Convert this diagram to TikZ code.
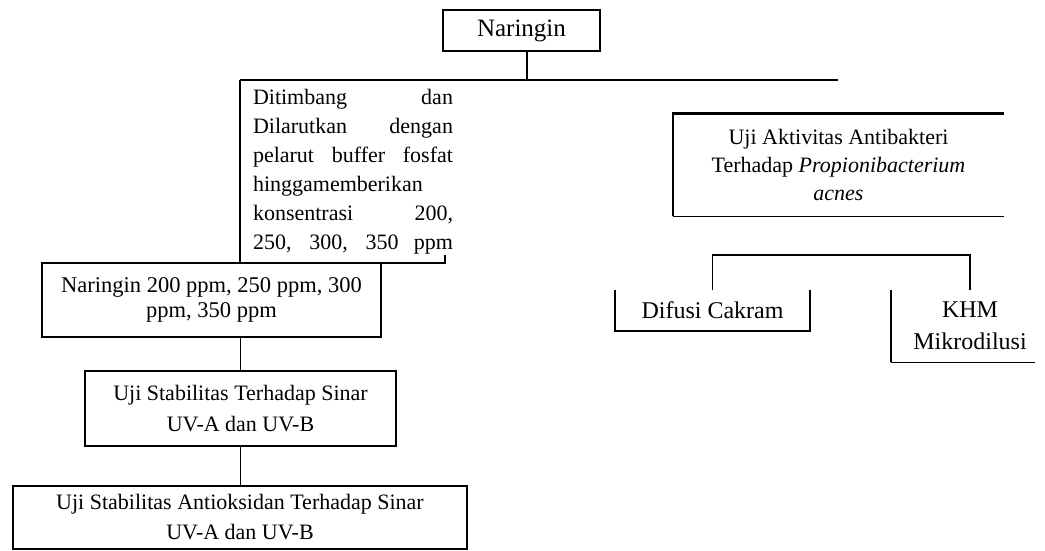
\documentclass[tikz,border=0pt]{standalone}
\usepackage{fontspec}
\setmainfont{Liberation Serif}
\tikzset{
  lbl/.style={font=\fontsize{22}{28}\selectfont, align=center, inner sep=0pt},
  frame/.style={draw=black, line width=1.8pt},
  conn/.style={draw=black, line width=1.8pt},
  heavy/.style={draw=black, line width=2.6pt},
  thin/.style={draw=black, line width=0.8pt},
}
\newcommand{\jl}[1]{\makebox[200pt][s]{#1}}
\begin{document}
\begin{tikzpicture}[x=1pt,y=-1pt]
\useasboundingbox (0,0) rectangle (1045,551);
% top
\node[frame, lbl, minimum width=157pt, minimum height=41pt, font=\fontsize{25}{28}\selectfont] (top) at (521.5,30.5) {Naringin};
\coordinate (j1) at (527,80);
\coordinate (jL) at (240,80);
\coordinate (jR) at (838,80);
\draw[conn] (top.south -| j1) -- (j1);
\draw[conn] (jL) -- (jR);
% middle text block
\node[lbl, align=left, font=\fontsize{22}{29}\selectfont] (mid) at (353,172)
  {\jl{Ditimbang dan}\\ \jl{Dilarutkan dengan}\\ \jl{pelarut buffer fosfat}\\ \jl{hinggamemberikan}\\ \jl{konsentrasi 200,}\\ \jl{250, 300, 350 ppm}};
\coordinate (mbl) at (240,263);
\coordinate (mbr) at (445,263);
\draw[conn] (jL) -- (mbl) -- (mbr) -- ++(0,-8);
% left column
\node[frame, lbl, minimum width=339pt, minimum height=74pt, font=\fontsize{22.5}{25}\selectfont] (b4) at (211.5,300)
  {Naringin 200 ppm, 250 ppm, 300\\ ppm, 350 ppm};
\node[frame, lbl, minimum width=311pt, minimum height=75pt, font=\fontsize{22}{31}\selectfont] (b5) at (240.5,408.5)
  {Uji Stabilitas Terhadap Sinar\\ UV-A dan UV-B};
\node[frame, lbl, minimum width=454pt, minimum height=63pt, font=\fontsize{22}{30}\selectfont] (b6) at (240,517.5)
  {Uji Stabilitas Antioksidan Terhadap Sinar\\ UV-A dan UV-B};
\draw[conn] (b4.south -| b5.north) -- (b5.north);
\draw[conn] (b5.south) -- (b5.south |- b6.north);
% right side
\node[lbl, minimum width=331pt, minimum height=102pt] (rb) at (838.5,165)
  {Uji Aktivitas Antibakteri\\ Terhadap \textit{Propionibacterium}\\ \textit{acnes}};
\draw[heavy] (rb.south west) -- (rb.north west) -- (rb.north east);
\draw[thin] (rb.south west) -- (rb.south east);
\node[lbl, minimum width=195pt, minimum height=41pt, font=\fontsize{24}{28}\selectfont] (dif) at (712.5,310.5) {Difusi Cakram};
\draw[frame] (dif.north west) -- (dif.south west) -- (dif.south east) -- (dif.north east);
\node[lbl, minimum width=158pt, minimum height=72pt, font=\fontsize{24}{32}\selectfont] (khm) at (970,326) {KHM\\ Mikrodilusi};
\draw[frame] (khm.north west) -- (khm.south west);
\draw[thin] (khm.south west) -- ++(144,0);
\coordinate (j2) at (838,255);
\draw[conn] (dif.north) -- (dif.north |- j2) -- (khm.north |- j2) -- (khm.north);
\end{tikzpicture}
\end{document}
